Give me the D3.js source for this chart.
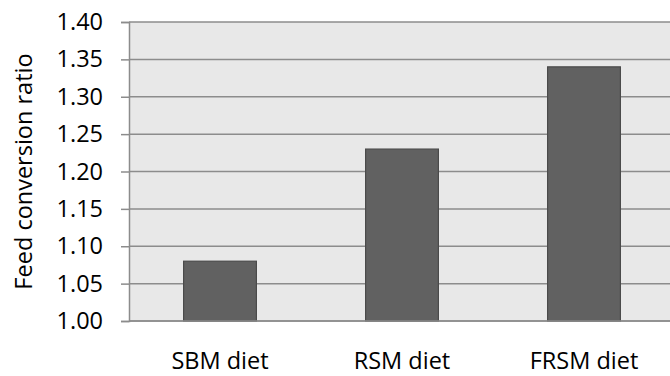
<!DOCTYPE html>
<html>
<head>
<meta charset="utf-8">
<script src="https://cdn.jsdelivr.net/npm/d3@7"></script>
<style>
  html, body { margin: 0; padding: 0; background: #fff; }
  svg { display: block; }
  text { font-family: "Open Sans", "Noto Sans", sans-serif; fill: #000; }
</style>
</head>
<body>
<svg id="chart" width="670" height="376"></svg>
<script>
// Feed conversion ratio by diet
const categories = ["SBM diet", "RSM diet", "FRSM diet"];
const fcrValues = [1.08, 1.23, 1.34];
const yTicks = [1.00, 1.05, 1.10, 1.15, 1.20, 1.25, 1.30, 1.35, 1.40];

const svg = d3.select("#chart");
const margin = { left: 129, right: -5, top: 22, bottom: 55 };
const W = 670, H = 376;

const x = d3.scaleBand()
  .domain(categories)
  .range([margin.left, W - margin.right])
  .paddingInner(0.6)
  .paddingOuter(0.3);

const y = d3.scaleLinear()
  .domain([1.0, 1.4])
  .range([H - margin.bottom, margin.top]);

// plot background
svg.append("rect")
  .attr("x", margin.left)
  .attr("y", y(1.4))
  .attr("width", W - margin.left)
  .attr("height", y(1.0) - y(1.4))
  .attr("fill", "#e8e8e8");

// gridlines
svg.append("g")
  .selectAll("line")
  .data(yTicks)
  .join("line")
  .attr("x1", margin.left)
  .attr("x2", W)
  .attr("y1", d => y(d))
  .attr("y2", d => y(d))
  .attr("stroke", "#8c8c8c")
  .attr("stroke-width", 1.5);

// bars
svg.append("g")
  .selectAll("rect")
  .data(categories.map((c, i) => ({ c, v: fcrValues[i] })))
  .join("rect")
  .attr("x", d => x(d.c))
  .attr("y", d => y(d.v))
  .attr("width", x.bandwidth())
  .attr("height", d => y(1.0) - y(d.v))
  .attr("fill", "#616161")
  .attr("stroke", "#4a4a4a")
  .attr("stroke-width", 1.2);

// y axis
const yAxis = d3.axisLeft(y)
  .tickValues(yTicks)
  .tickFormat(d3.format(".2f"))
  .tickSize(8)
  .tickPadding(18);

const gy = svg.append("g")
  .attr("transform", `translate(${margin.left},0)`)
  .call(yAxis)
  .attr("font-size", 23.5)
  .attr("font-family", "'Open Sans', 'Noto Sans', sans-serif");
gy.select(".domain").attr("stroke", "#8c8c8c").attr("stroke-width", 1.5);
gy.selectAll(".tick line").attr("stroke", "#8c8c8c").attr("stroke-width", 1.5);
gy.selectAll(".tick text").attr("fill", "#000");

// x axis baseline
svg.append("line")
  .attr("x1", margin.left).attr("x2", W)
  .attr("y1", y(1.0)).attr("y2", y(1.0))
  .attr("stroke", "#8c8c8c").attr("stroke-width", 1.5);

// category labels
svg.append("g")
  .selectAll("text")
  .data(categories)
  .join("text")
  .attr("x", d => x(d) + x.bandwidth() / 2)
  .attr("y", 369)
  .attr("text-anchor", "middle")
  .attr("font-size", 23.5)
  .text(d => d);

// y axis title
svg.append("text")
  .attr("transform", `translate(23, ${(y(1.0) + y(1.4)) / 2}) rotate(-90)`)
  .attr("text-anchor", "middle")
  .attr("dominant-baseline", "central")
  .attr("font-size", 23.5)
  .text("Feed conversion ratio");
</script>
</body>
</html>
